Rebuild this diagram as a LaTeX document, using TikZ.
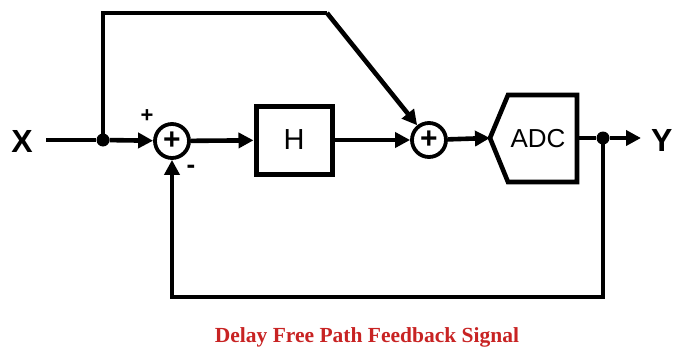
\documentclass[tikz,border=0pt]{standalone}
\usepackage{fontspec}
\setmainfont{Liberation Sans}
\newfontfamily\serifbold{Liberation Serif}
\usetikzlibrary{arrows.meta}
\definecolor{titlered}{RGB}{200,35,35}
\begin{document}
\begin{tikzpicture}[x=1pt,y=-1pt,
  wire/.style={line width=4.6pt},
  sig/.style={wire,-{Triangle[length=15pt,width=15pt]}},
  sumnode/.style={circle,draw,line width=3.8pt,minimum size=34pt,inner sep=0pt,font=\fontsize{30}{30}\selectfont\bfseries},
  blockbox/.style={draw,line width=5pt,minimum width=76pt,minimum height=68pt,inner sep=0pt,font=\fontsize{29}{29}\selectfont},
  lbl/.style={font=\fontsize{32}{32}\selectfont\bfseries},
  dotnode/.style={circle,fill,inner sep=0pt,minimum size=13pt}]
\useasboundingbox (0,0) rectangle (673,348);
\fill[white] (0,0) rectangle (673,348);
% nodes
\node[lbl] (X) at (22,141) {X};
\coordinate (xs) at (46,140);
\node[dotnode] (j1) at (103,140) {};
\node[sumnode] (s1) at (172,141) {+};
\node[blockbox] (H) at (294,140) {H};
\node[sumnode] (s2) at (429,140) {+};
\node[font=\fontsize{26}{26}\selectfont, inner sep=0pt] (ADC) at (538,139) {ADC};
\draw[line width=4.6pt,line join=miter] (490,138) -- (508,95) -- (577,95) -- (577,182) -- (508,182) -- cycle;
\coordinate (adcin) at (490,138);
\coordinate (adcout) at (577,138);
\node[dotnode] (j2) at (603,138) {};
\coordinate (yend) at (641,138);
\node[lbl,anchor=west,inner sep=0pt] (Y) at (651,140) {Y};
\coordinate (t1) at (103,13);
\coordinate (t2) at (327,13);
\coordinate (b1) at (603,297);
\coordinate (b2) at (172,297);
\node[font=\fontsize{22}{22}\selectfont\bfseries] (plus) at (147,116) {+};
\node[font=\fontsize{26}{26}\selectfont\bfseries] (minus) at (191,169) {-};
% connectors
\draw[wire] (xs) -- (j1);
\draw[sig] (j1) -- (s1);
\draw[sig] (s1) -- (H);
\draw[sig] (H) -- (s2);
\draw[sig] (s2) -- (adcin);
\draw[wire] (adcout) -- (j2);
\draw[sig] (j2) -- (yend);
\draw[wire,line join=miter] (j1.center) -- (t1) -- (t2);
\draw[sig] (t2) -- (s2);
\draw[sig,line join=miter] (j2.center) -- (b1) -- (b2) -- (s1);
% title
\node[text=titlered,font=\serifbold\fontsize{21.5}{21.5}\selectfont\bfseries] (title) at (367,337) {Delay Free Path Feedback Signal};
\end{tikzpicture}
\end{document}
